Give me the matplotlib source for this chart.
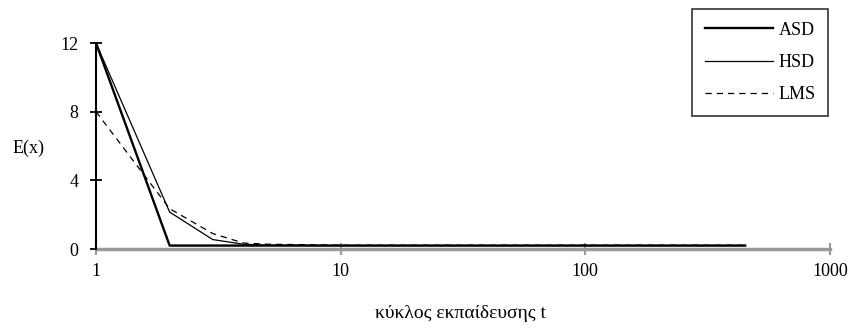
import matplotlib
matplotlib.use("Agg")
import matplotlib.pyplot as plt

cycles = [1, 2, 3, 4, 5, 10, 50, 100, 450]
asd = [12.0, 0.2, 0.2, 0.2, 0.2, 0.2, 0.2, 0.2, 0.2]
hsd = [12.0, 2.15, 0.55, 0.28, 0.22, 0.2, 0.2, 0.2, 0.2]
lms = [8.0, 2.35, 0.9, 0.35, 0.28, 0.22, 0.22, 0.22, 0.22]
yticks = [0, 4, 8, 12]
xticks = [1, 10, 100, 1000]
xticklabels = ["1", "10", "100", "1000"]

plt.rcParams['font.family'] = ['Liberation Serif', 'DejaVu Serif']

FS = 13
fig = plt.figure(figsize=(8.51, 3.31), dpi=100)
W, H = 851, 331
ax = fig.add_axes([96 / W, (H - 249) / H, (830 - 96) / W, (249 - 43) / H])

ax.plot(cycles, asd, color='black', lw=1.7, label='ASD', zorder=3)
ax.plot(cycles, hsd, color='black', lw=0.9, label='HSD', zorder=3)
ax.plot(cycles, lms, color='black', lw=0.9, ls=(0, (5, 4)), label='LMS', zorder=3)

ax.set_xscale('log')
ax.set_xlim(1, 1000)
ax.set_ylim(0, 12)
ax.set_xticks(xticks)
ax.set_xticklabels(xticklabels)
ax.xaxis.set_minor_locator(matplotlib.ticker.NullLocator())
ax.set_yticks(yticks)

for s in ['top', 'right']:
    ax.spines[s].set_visible(False)
ax.spines['left'].set_color('black')
ax.spines['left'].set_linewidth(1.5)
ax.spines['bottom'].set_color('#9a9a9a')
ax.spines['bottom'].set_linewidth(2.5)
ax.spines['bottom'].set_zorder(2)

ax.tick_params(axis='y', direction='inout', length=9, width=1.3, colors='black',
               labelsize=FS, pad=8)
ax.tick_params(axis='x', direction='inout', length=8, width=1.5, color='#9a9a9a',
               labelcolor='black', labelsize=FS, pad=6)

ax.set_xlabel('κύκλος εκπαίδευσης t', fontsize=14, va='center')
ax.xaxis.set_label_coords(0.497, (249 - 313) / 206)
ax.set_ylabel('E(x)', fontsize=FS, rotation=0, va='center', ha='center')
ax.yaxis.set_label_coords((29 - 96) / 734, (249 - 148) / 206)

leg = fig.legend(loc='upper left', bbox_to_anchor=(692 / W, 1 - 9 / H),
                 frameon=True, fancybox=False, edgecolor='black', fontsize=FS,
                 handlelength=3.8, handletextpad=0.3, labelspacing=0.85,
                 borderpad=0.7, borderaxespad=0)
leg.get_frame().set_linewidth(1.2)

fig.savefig('out.png', dpi=100)
